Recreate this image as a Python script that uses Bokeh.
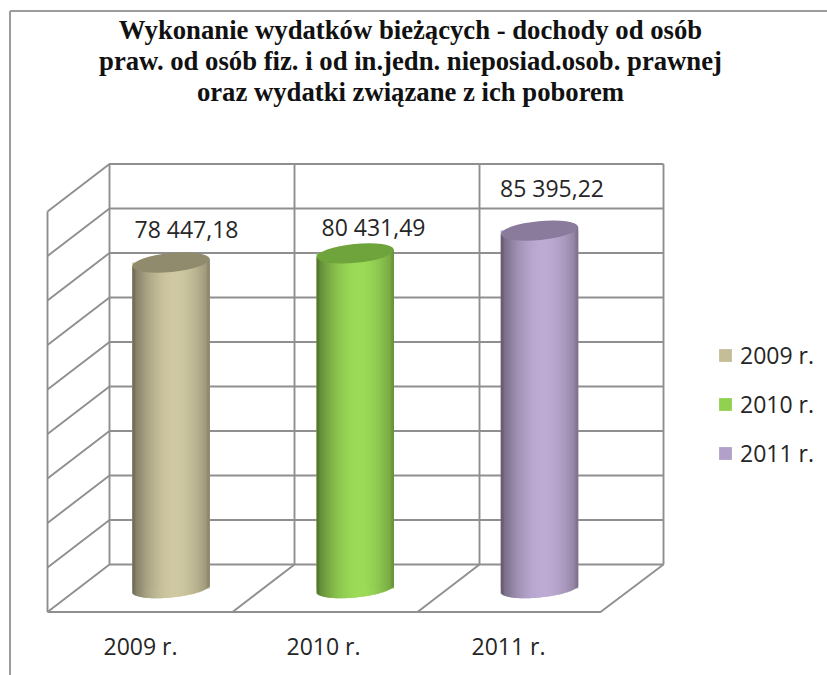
from bokeh.plotting import figure
from bokeh.models import Range1d, Legend, LegendItem
from bokeh.core.properties import value
from bokeh.embed import file_html
from bokeh.resources import INLINE
import math

title_lines = ["Wykonanie wydatków bieżących - dochody od osób",
               "praw. od osób fiz. i od in.jedn. nieposiad.osob. prawnej",
               "oraz wydatki związane z ich poborem"]
years = ["2009 r.", "2010 r.", "2011 r."]
values = [78447.18, 80431.49, 85395.22]
value_labels = ["78 447,18", "80 431,49", "85 395,22"]
legend_colors = ["#C4BD97", "#92D050", "#B1A0C7"]
light_colors = ["#D0C9A2", "#9CDC58", "#BEACD5"]
cap_colors = ["#918B6D", "#6FA33C", "#8A7A9C"]

W, H = 827, 675
PX0, PY0 = 0, 0          # the page shows the figure at its corner

# index scale: category i sits at page x = 170.5 + 184.25 i
CX0, CDX = 170.5, 184.25
# value scale: value v sits at page y = 622.9 - 0.0046 v
Y0, KY = 622.9, 0.0046
to_val = lambda py: (Y0 - py) / KY

p = figure(width=W, height=H, output_backend="svg", toolbar_location=None,
           x_range=Range1d((PX0 - CX0) / CDX, (PX0 + W - CX0) / CDX),
           y_range=Range1d(to_val(PY0 + H), to_val(PY0)),
           x_axis_location=None, y_axis_location=None, min_border=0,
           outline_line_color=None, background_fill_color="white",
           border_fill_color="white")
p.grid.visible = False
p.extra_x_ranges = {"px": Range1d(PX0, PX0 + W)}
p.extra_y_ranges = {"px": Range1d(PY0 + H, PY0)}
px = dict(x_range_name="px", y_range_name="px")

# outer frame
p.multi_line(xs=[[9.5, 9.5], [9.5, 827]], ys=[[675, 10.5], [10.5, 10.5]],
             line_color="#9c9c9c", line_width=2, **px)

# walls and floor
GRID = "#8f8f8f"
BACK_L, BACK_R, FRONT_L, FRONT_R = 109, 663, 47, 600
TOP, FLOOR, FRONT_Y = 163.5, 564, 611.5
DX, DY = BACK_L - FRONT_L, FRONT_Y - FLOOR
levels = [TOP + (FLOOR - TOP) * i / 9 for i in range(10)]
xs, ys = [], []
for g in levels:
    xs.append([FRONT_L, BACK_L, BACK_R]); ys.append([g + DY, g, g])
for bx in [BACK_L, 294, 479, BACK_R]:
    xs.append([bx, bx]); ys.append([TOP, FLOOR])
xs.append([FRONT_L, FRONT_L]); ys.append([TOP + DY, FRONT_Y])
xs.append([FRONT_L, FRONT_R, BACK_R]); ys.append([FRONT_Y, FRONT_Y, FLOOR])
for bx in [294, 479]:
    xs.append([bx - DX, bx]); ys.append([FRONT_Y, FLOOR])
p.multi_line(xs=xs, ys=ys, line_color=GRID, line_width=1.9, **px)

# cylinders
CYL_W = 77.5
R = CYL_W / 2
B = 9.0
TILT = 3.8
BOTTOM_PY = 588.0
STEPS = 78


def shade(u):
    t = (u - 0.1) / 1.1
    f = 1 - 0.42 * abs(t) ** 1.9
    if abs(u) > 0.93:
        f -= 0.05
    return f


def scaled(c, f):
    r, g, b = [int(c[i:i + 2], 16) for i in (1, 3, 5)]
    return "#%02x%02x%02x" % (int(r * f), int(g * f), int(b * f))


legend_items = []
for i, v in enumerate(values):
    hw = R / CDX
    # base body, carrying the legend colour
    base = p.quad(left=[i - hw], right=[i + hw], top=[v], bottom=[to_val(BOTTOM_PY)],
                  fill_color=legend_colors[i], line_color=None)
    legend_items.append(LegendItem(label=years[i], renderers=[base]))
    lefts, rights, tops, bottoms, cols = [], [], [], [], []
    for k in range(STEPS):
        u0, u1 = -1 + 2 * k / STEPS, -1 + 2 * (k + 1) / STEPS
        um = (u0 + u1) / 2
        lefts.append(i + u0 * hw)
        rights.append(i + min(u1 + 0.02, 1) * hw)
        tops.append(v + um * TILT / KY)
        low = BOTTOM_PY - um * TILT + B * math.sqrt(max(1 - um * um, 0))
        bottoms.append(to_val(low))
        cols.append(scaled(light_colors[i], shade(um)))
    p.quad(left=lefts, right=rights, top=tops, bottom=bottoms,
           fill_color=cols, line_color=None)
    p.ellipse(x=[i], y=[v], width=CYL_W, height=2 * B + 1,
              angle=math.degrees(math.atan(TILT / R)), angle_units="deg",
              width_units="screen", height_units="screen",
              fill_color=cap_colors[i], line_color=None)

# value labels
FONT = "Open Sans"
TXT = "#262626"
p.text(x=[186, 373, 551.5], y=[228, 226, 187], text=value_labels,
       text_font=value(FONT), text_font_size="23px", text_color=TXT,
       text_align="center", text_baseline="middle", **px)
# category labels
p.text(x=[140, 323, 508], y=[645, 645, 645], text=years,
       text_font=value(FONT), text_font_size="23px", text_color=TXT,
       text_align="center", text_baseline="middle", **px)
# title
p.text(x=[410, 410, 410], y=[29, 60, 91], text=title_lines,
       text_font=value("Liberation Serif"), text_font_style="bold", text_font_size="26.7px",
       text_color="#111111", text_align="center", text_baseline="middle", **px)

legend = Legend(items=legend_items, location=(717 - PX0, PY0 + H - 469),
                glyph_width=16, glyph_height=16, label_height=16, spacing=17,
                label_standoff=7, padding=0, margin=0, border_line_color=None,
                background_fill_alpha=0, label_text_font=FONT,
                label_text_font_size="23px", label_text_color=TXT)
p.add_layout(legend, "center")

open("out.html", "w").write(file_html(p, INLINE))
